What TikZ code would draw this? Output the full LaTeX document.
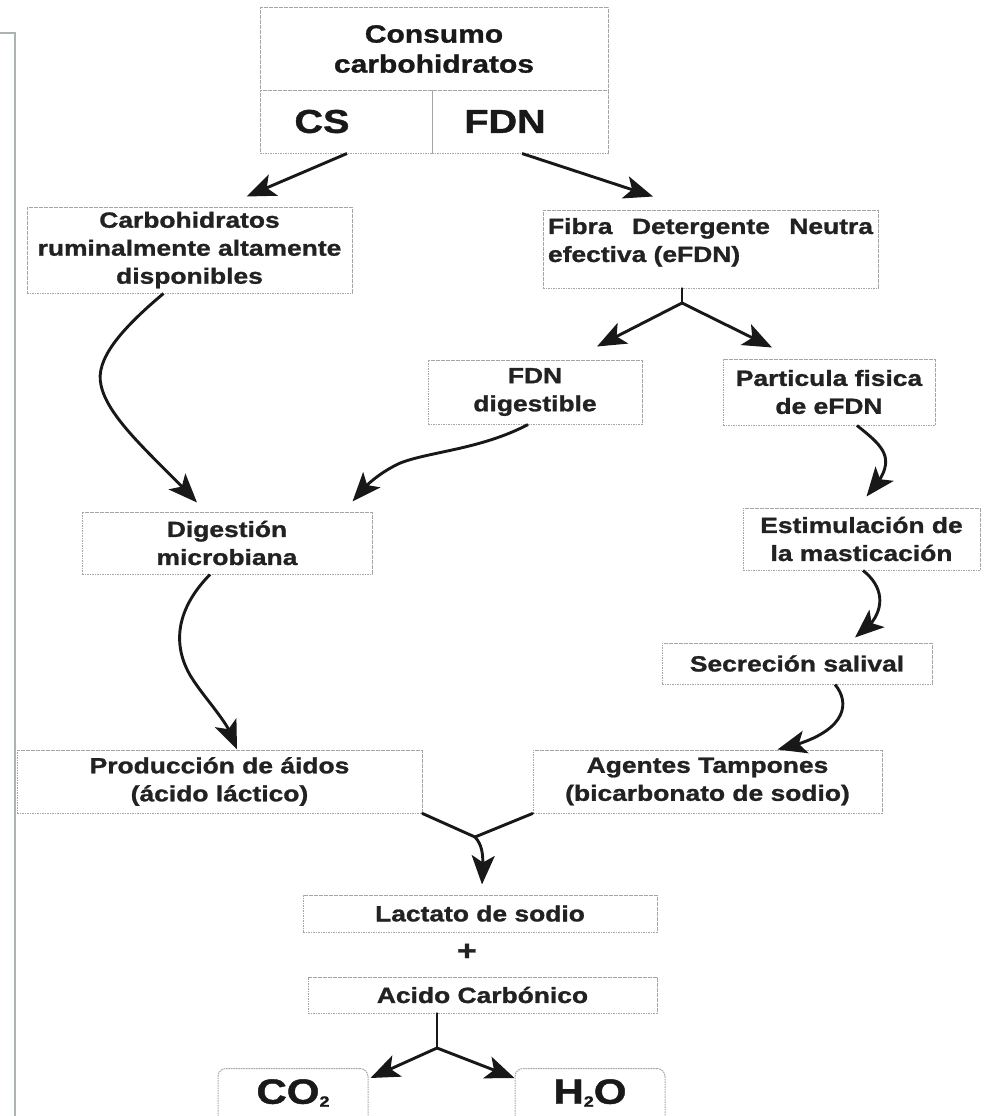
\documentclass[tikz,border=0pt]{standalone}
\usepackage{fontspec}
\setmainfont{Liberation Sans}[FakeStretch=1.2, BoldFeatures={FakeBold=1.2}]
\usetikzlibrary{arrows.meta,bending}

\definecolor{ink}{RGB}{34,34,34}
\definecolor{boxline}{RGB}{165,165,165}
\definecolor{pagerule}{RGB}{172,180,178}
\definecolor{arrowink}{RGB}{24,24,24}

\tikzset{
  box/.style={draw=boxline, dash pattern=on 1.6pt off 0.9pt, line width=1pt,
    inner sep=0pt, align=center, text=ink,
    font=\fontsize{22}{28}\selectfont\bfseries},
  topcell/.style={box, text=black!90},
  flow/.style={line width=2.9pt, draw=arrowink,
    -{Stealth[length=29pt,width=23pt,inset=7pt]}},
  link/.style={line width=2.9pt, draw=arrowink, line cap=round},
}

\begin{document}
\begin{tikzpicture}[x=1pt,y=-1pt]
\clip (0,0) rectangle (987,1116);
\fill[white] (0,0) rectangle (987,1116);

% page rule at the left edge
\draw[pagerule, line width=1.3pt] (0,33) -- (15,33) -- (15,1116);

% header table
\node[topcell, minimum width=348, minimum height=82,
      font=\fontsize{25}{30}\selectfont\bfseries] (consumo) at (434,49) {Consumo\\carbohidratos};
\node[topcell, minimum width=172, minimum height=63,
      font=\fontsize{33}{33}\selectfont\bfseries] (cs) at (346,121.5) {CS\hspace*{48pt}};
\node[topcell, minimum width=176, minimum height=63,
      font=\fontsize{33}{33}\selectfont\bfseries] (fdn) at (520,121.5) {FDN\hspace*{30pt}};

% boxes
\node[box, minimum width=325, minimum height=86] (carb) at (189.5,250)
  {Carbohidratos\\ruminalmente altamente\\disponibles};
\node[box, minimum width=335, minimum height=78, align=left] (fibra) at (710.5,249)
  {\makebox[325pt][s]{Fibra Detergente Neutra}\\efectiva (eFDN)\\[-10pt]\mbox{}};
\node[box, minimum width=214, minimum height=64] (fdndig) at (535,392) {FDN\\digestible};
\node[box, minimum width=212, minimum height=66] (part) at (829,392) {Particula fisica\\de eFDN};
\node[box, minimum width=237, minimum height=62] (estim) at (861.5,539) {Estimulación de\\la masticación};
\node[box, minimum width=270, minimum height=41] (secr) at (797,663.5) {Secreción salival};
\node[box, minimum width=349, minimum height=63] (agentes) at (707.5,781.5)
  {Agentes Tampones\\(bicarbonato de sodio)};
\node[box, minimum width=290, minimum height=62] (digest) at (227,543) {Digestión\\microbiana};
\node[box, minimum width=405, minimum height=63] (prod) at (219.5,781.5)
  {Producción de áidos\\(ácido láctico)};
\node[box, minimum width=354, minimum height=37] (lactato) at (480,913.5) {Lactato de sodio};
\node[text=ink, font=\fontsize{28}{28}\selectfont\bfseries] (plus) at (467,952) {+};
\node[box, minimum width=349, minimum height=36] (acido) at (482.5,995) {Acido Carbónico};

\node[box, rounded corners=8pt, minimum width=150, minimum height=64, anchor=north,
      text=black!90, font=\fontsize{35}{35}\selectfont\bfseries, text depth=18pt]
  (co2) at (293,1068) {CO\raisebox{-3pt}{\fontsize{15}{15}\selectfont 2}};
\node[box, rounded corners=8pt, minimum width=150, minimum height=64, anchor=north,
      text=black!90, font=\fontsize{35}{35}\selectfont\bfseries, text depth=18pt]
  (h2o) at (590,1068) {H\raisebox{-3pt}{\fontsize{15}{15}\selectfont 2}O};

% connectors
\draw[flow] ([xshift=1pt]cs.south) -- ([xshift=57pt,yshift=10pt]carb.north);
\draw[flow] ([xshift=2pt]fdn.south) -- ([xshift=-57.5pt,yshift=13pt]fibra.north);

\draw[flow] ([xshift=-26pt]carb.south) .. controls (120,330) and (95,360) .. (101,385)
  .. controls (108,420) and (160,462) .. ([xshift=-30pt,yshift=9pt]digest.north);
\draw[flow] ([xshift=-7pt]fdndig.south) .. controls (480,450) and (425,452) .. (398,464)
  .. controls (378,474) and (364,486) .. ([xshift=-20pt,yshift=10pt]digest.north east);

\coordinate (fsplit) at (682,303);
\draw[link] ([xshift=-28.5pt]fibra.south) -- (fsplit);
\draw[flow] (fsplit) -- ([xshift=62pt,yshift=13pt]fdndig.north);
\draw[flow] (fsplit) -- ([xshift=-57pt,yshift=11pt]part.north);

\draw[flow] ([xshift=28pt]part.south) .. controls (885,448) and (900,460)
  .. ([xshift=5pt,yshift=11pt]estim.north);
\draw[flow] ([xshift=1.5pt]estim.south) .. controls (888,590) and (885,618)
  .. ([xshift=58pt,yshift=5pt]secr.north);
\draw[flow] ([xshift=38pt]secr.south) .. controls (852,705) and (845,735)
  .. ([xshift=70pt]agentes.north);

\draw[flow] ([xshift=-17pt]digest.south) .. controls (180,605) and (170,640) .. (190,675)
  .. controls (205,700) and (232,725) .. ([xshift=17.5pt]prod.north);

\coordinate (merge) at (475,837);
\draw[link] (prod.south east) -- (merge);
\draw[link] (agentes.south west) -- (merge);
\draw[flow] (merge) .. controls (485,848) and (483,862) .. ([xshift=2pt,yshift=10pt]lactato.north);

\coordinate (asplit) at (437,1048);
\draw[link] ([xshift=-45.5pt]acido.south) -- (asplit);
\draw[flow] (asplit) -- ([xshift=2pt,yshift=-10pt]co2.north east);
\draw[flow] (asplit) -- ([yshift=-10pt]h2o.north west);
\end{tikzpicture}
\end{document}
